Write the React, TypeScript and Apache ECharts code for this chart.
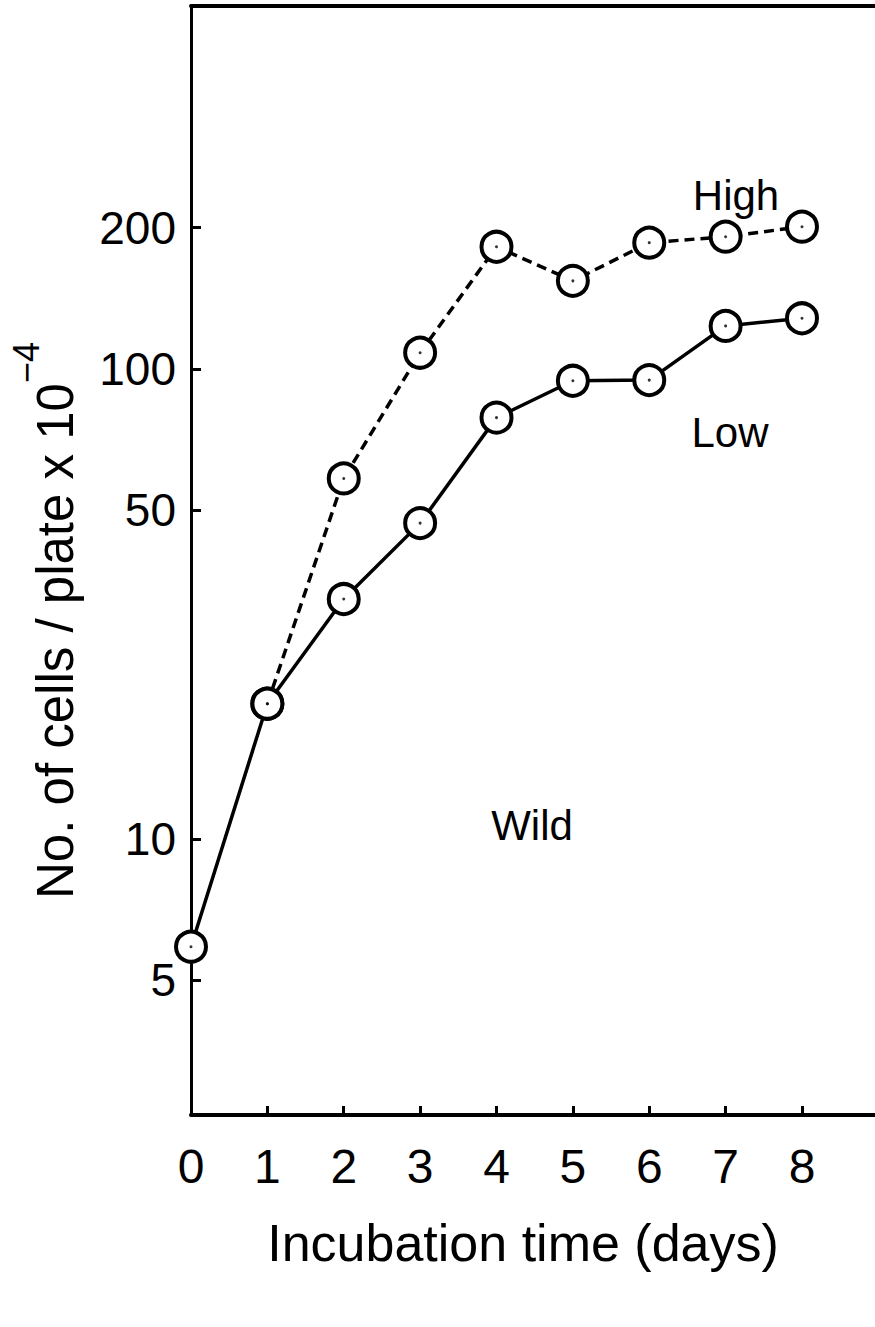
import React, { useEffect, useRef } from "react";
import * as echarts from "echarts";

const days = [0, 1, 2, 3, 4, 5, 6, 7, 8];
const wild = [5.9, 19.4, 32.4, 47, 78.8, 94.4, 94.7, 123.5, 128.2];
const highDays = [1, 2, 3, 4, 5, 6, 7, 8];
const high = [19.4, 58.5, 108.3, 182, 154, 185.7, 191.2, 200.8];
const yTicks = [5, 10, 50, 100, 200];
const xTicks = [0, 1, 2, 3, 4, 5, 6, 7, 8];
const xTickMarks = [1, 2, 3, 4, 5, 6, 7, 8];

const REG = "'Liberation Sans', Arial, sans-serif";

export default function App() {
  const ref = useRef<HTMLDivElement>(null);
  useEffect(() => {
    if (!ref.current) return;
    const chart = echarts.init(ref.current, null, { renderer: "svg" });
    const wildData = days.map((d, i) => [d, wild[i]]);
    const highData = highDays.map((d, i) => [d, high[i]]);
    const markerStyle = { color: "#fff", borderColor: "#000", borderWidth: 4 };
    const labelStyle = (text: string) => ({
      text,
      fontSize: 42,
      fontFamily: REG,
      fill: "#000",
      align: "center",
      verticalAlign: "middle",
      textAlign: "center",
      textVerticalAlign: "middle",
    });
    chart.setOption({
      animation: false,
      backgroundColor: "#fff",
      grid: { left: 189, top: 6, right: 0, bottom: 212 },
      xAxis: [
        {
          type: "value",
          min: 0,
          max: 8.956,
          interval: 1,
          name: "Incubation time (days)",
          nameLocation: "middle",
          nameGap: 102,
          nameTextStyle: { fontSize: 52, fontFamily: REG, color: "#000", padding: [0, 20, 0, 0] },
          axisLine: { show: true, lineStyle: { color: "#000", width: 4 } },
          axisTick: { show: true, inside: true, length: 9, customValues: xTickMarks, lineStyle: { color: "#000", width: 3 } },
          axisLabel: { show: true, customValues: xTicks, fontSize: 48, margin: 27, color: "#000", fontFamily: REG },
          splitLine: { show: false },
        },
        {
          type: "value",
          position: "top",
          min: 0,
          max: 8.956,
          axisLine: { show: true, onZero: false, lineStyle: { color: "#000", width: 4 } },
          axisTick: { show: false },
          axisLabel: { show: false },
          splitLine: { show: false },
        },
      ],
      yAxis: {
        type: "log",
        logBase: 10,
        min: 2.587,
        max: 592,
        name: "{m|No. of cells / plate x 10}{s|\u22124}",
        nameLocation: "middle",
        nameGap: 110,
        nameTextStyle: {
          color: "#000",
          padding: [0, 120, 0, 0],
          rich: {
            m: { fontSize: 51, lineHeight: 73, verticalAlign: "bottom", fontFamily: REG, color: "#000" },
            s: { fontSize: 36, lineHeight: 36, verticalAlign: "top", fontFamily: REG, color: "#000" },
          },
        },
        axisLine: { show: true, lineStyle: { color: "#000", width: 3 } },
        axisTick: { show: true, inside: true, length: 10, customValues: yTicks, lineStyle: { color: "#000", width: 3 } },
        axisLabel: { show: true, customValues: yTicks, fontSize: 46, margin: 15, color: "#000", fontFamily: REG },
        splitLine: { show: false },
        minorTick: { show: false },
      },
      series: [
        {
          type: "line",
          name: "Wild",
          data: wildData,
          clip: false,
          symbol: "circle",
          symbolSize: 30,
          itemStyle: markerStyle,
          lineStyle: { color: "#000", width: 3.5 },
          z: 3,
        },
        {
          type: "line",
          name: "High",
          data: highData,
          clip: false,
          symbol: "circle",
          symbolSize: 30,
          itemStyle: markerStyle,
          lineStyle: { color: "#000", width: 3.5, type: [10, 6] },
          z: 4,
        },
        {
          type: "scatter",
          name: "dots",
          data: [...wildData, ...highData],
          clip: false,
          symbol: "circle",
          symbolSize: 3,
          itemStyle: { color: "#000" },
          z: 6,
          silent: true,
        },
      ],
      graphic: [
        { type: "text", x: 736, y: 195, style: labelStyle("High") },
        { type: "text", x: 730, y: 432, style: labelStyle("Low") },
        { type: "text", x: 532, y: 825, style: labelStyle("Wild") },
      ],
    });
    return () => chart.dispose();
  }, []);
  return (
    <div
      ref={ref}
      style={{ position: "absolute", left: 0, top: 0, width: 875, height: 1327, background: "#fff" }}
    />
  );
}
